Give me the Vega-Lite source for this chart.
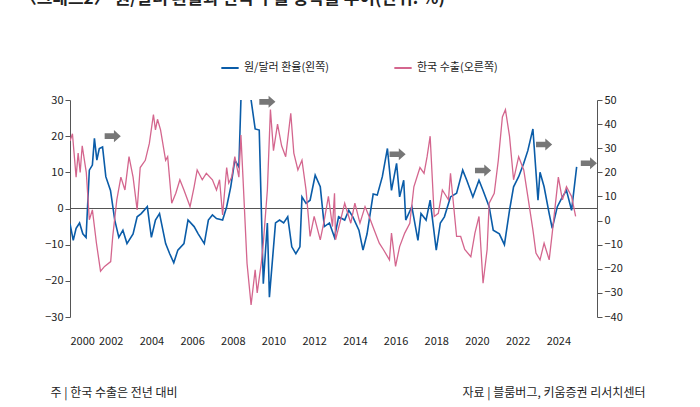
{
"$schema":"https://vega.github.io/schema/vega-lite/v6.json",
"autosize":"none","width":527,"height":217,
"padding":{"left":70,"top":100,"right":103,"bottom":90},
"background":"white",
"config":{"font":"Noto Sans CJK KR","view":{"stroke":null}},
"title":{"text":"〈그래프2〉 원/달러 환율과 한국 수출 등락률 추이(단위: %)","anchor":"start","dx":-25,"offset":50,"baseline":"top","fontSize":17,"fontWeight":"bold","color":"#222"},
"datasets":{
"won":[
{"t":2000.0,"v":-4.2},{"t":2000.16,"v":-8.8},{"t":2000.3,"v":-5.5},{"t":2000.47,"v":-4},{"t":2000.63,"v":-7},{"t":2000.79,"v":-8},{"t":2000.95,"v":10.6},{"t":2001.1,"v":12},{"t":2001.2,"v":19.4},{"t":2001.32,"v":13.4},{"t":2001.44,"v":16.6},{"t":2001.6,"v":17},{"t":2001.76,"v":8.8},{"t":2001.99,"v":5},{"t":2002.2,"v":-3.2},{"t":2002.4,"v":-8},{"t":2002.6,"v":-6},{"t":2002.8,"v":-9.7},{"t":2003.1,"v":-7},{"t":2003.3,"v":-2.3},{"t":2003.5,"v":-1.4},{"t":2003.8,"v":0.5},{"t":2004.0,"v":-8},{"t":2004.2,"v":-3.2},{"t":2004.4,"v":-1.4},{"t":2004.7,"v":-9.7},{"t":2004.9,"v":-12.5},{"t":2005.1,"v":-15},{"t":2005.3,"v":-11.5},{"t":2005.6,"v":-9.7},{"t":2005.8,"v":-3.2},{"t":2006.1,"v":-5},{"t":2006.3,"v":-7},{"t":2006.6,"v":-9.7},{"t":2006.8,"v":-3.2},{"t":2007.0,"v":-1.8},{"t":2007.2,"v":-2.8},{"t":2007.5,"v":-3.2},{"t":2007.7,"v":0.5},{"t":2007.9,"v":6},{"t":2008.1,"v":13.4},{"t":2008.3,"v":11.5},{"t":2008.4,"v":30},{"t":2008.6,"v":45},{"t":2008.8,"v":40},{"t":2008.9,"v":30},{"t":2009.1,"v":22},{"t":2009.3,"v":21.7},{"t":2009.4,"v":0.5},{"t":2009.5,"v":-20.8},{"t":2009.7,"v":-4},{"t":2009.8,"v":-24.5},{"t":2010.1,"v":-4},{"t":2010.3,"v":-3.2},{"t":2010.5,"v":-4},{"t":2010.7,"v":-2.3},{"t":2010.9,"v":-10.6},{"t":2011.1,"v":-12.5},{"t":2011.3,"v":-10.6},{"t":2011.4,"v":3.2},{"t":2011.6,"v":1.4},{"t":2011.8,"v":2.3},{"t":2012.05,"v":9.2},{"t":2012.3,"v":6},{"t":2012.5,"v":-5},{"t":2012.75,"v":-4},{"t":2013.0,"v":-8},{"t":2013.2,"v":-2.3},{"t":2013.5,"v":-3.2},{"t":2013.7,"v":-0.5},{"t":2013.9,"v":-2.3},{"t":2014.2,"v":-6},{"t":2014.4,"v":-11.5},{"t":2014.6,"v":-7},{"t":2014.9,"v":4},{"t":2015.1,"v":3.7},{"t":2015.35,"v":8.8},{"t":2015.6,"v":16.6},{"t":2015.8,"v":5},{"t":2016.05,"v":12.5},{"t":2016.2,"v":3.2},{"t":2016.4,"v":7.8},{"t":2016.5,"v":-3.2},{"t":2016.8,"v":0.5},{"t":2017.1,"v":-8.8},{"t":2017.25,"v":-1.4},{"t":2017.5,"v":-3.2},{"t":2017.7,"v":2.3},{"t":2018.0,"v":-11.5},{"t":2018.2,"v":-4},{"t":2018.4,"v":-2.3},{"t":2018.7,"v":3.2},{"t":2019.0,"v":4.2},{"t":2019.3,"v":10.6},{"t":2019.5,"v":7.8},{"t":2019.8,"v":3.2},{"t":2020.1,"v":7.8},{"t":2020.3,"v":5},{"t":2020.6,"v":0.5},{"t":2020.8,"v":-6},{"t":2021.1,"v":-7},{"t":2021.35,"v":-10},{"t":2021.6,"v":-0.5},{"t":2021.8,"v":6},{"t":2022.05,"v":8.8},{"t":2022.3,"v":12.5},{"t":2022.5,"v":16},{"t":2022.75,"v":22},{"t":2023.0,"v":2.3},{"t":2023.1,"v":10},{"t":2023.3,"v":6},{"t":2023.55,"v":-1.4},{"t":2023.7,"v":-5.5},{"t":2023.95,"v":0.5},{"t":2024.2,"v":3.2},{"t":2024.4,"v":5},{"t":2024.65,"v":-0.5},{"t":2024.9,"v":11.5}
],
"exp":[
{"t":2000.0,"v":33},{"t":2000.12,"v":36},{"t":2000.3,"v":18},{"t":2000.4,"v":28},{"t":2000.5,"v":20},{"t":2000.6,"v":31},{"t":2000.8,"v":20},{"t":2000.95,"v":0.3},{"t":2001.1,"v":4.4},{"t":2001.3,"v":-9.4},{"t":2001.5,"v":-21},{"t":2001.7,"v":-19},{"t":2002.0,"v":-17},{"t":2002.1,"v":-6.6},{"t":2002.3,"v":8.6},{"t":2002.5,"v":18},{"t":2002.7,"v":12.7},{"t":2002.9,"v":26.5},{"t":2003.1,"v":18},{"t":2003.3,"v":4.4},{"t":2003.45,"v":22},{"t":2003.7,"v":25},{"t":2003.9,"v":32},{"t":2004.1,"v":44},{"t":2004.2,"v":37.6},{"t":2004.3,"v":42},{"t":2004.45,"v":37.6},{"t":2004.7,"v":25},{"t":2004.8,"v":26.5},{"t":2005.0,"v":7.2},{"t":2005.2,"v":11.3},{"t":2005.4,"v":16.9},{"t":2005.6,"v":12.7},{"t":2005.9,"v":5.8},{"t":2006.1,"v":14},{"t":2006.25,"v":21},{"t":2006.5,"v":16.9},{"t":2006.7,"v":19.6},{"t":2007.0,"v":16.9},{"t":2007.2,"v":12.7},{"t":2007.35,"v":16.9},{"t":2007.5,"v":2.3},{"t":2007.7,"v":22},{"t":2007.8,"v":15.5},{"t":2007.95,"v":18},{"t":2008.1,"v":26.5},{"t":2008.3,"v":18},{"t":2008.4,"v":35.5},{"t":2008.5,"v":18},{"t":2008.7,"v":-17.7},{"t":2008.9,"v":-35},{"t":2009.1,"v":-20.4},{"t":2009.2,"v":-30},{"t":2009.4,"v":-17.7},{"t":2009.5,"v":-9.4},{"t":2009.7,"v":12.7},{"t":2009.85,"v":46},{"t":2010.0,"v":29},{"t":2010.2,"v":40},{"t":2010.4,"v":31},{"t":2010.6,"v":26.5},{"t":2010.85,"v":44.5},{"t":2011.0,"v":28},{"t":2011.2,"v":21},{"t":2011.4,"v":25},{"t":2011.6,"v":12.7},{"t":2011.8,"v":-6.6},{"t":2012.0,"v":1.7},{"t":2012.3,"v":-8},{"t":2012.5,"v":0.3},{"t":2012.7,"v":10},{"t":2012.9,"v":-2.5},{"t":2013.0,"v":11.3},{"t":2013.05,"v":-8},{"t":2013.3,"v":0.3},{"t":2013.5,"v":7.2},{"t":2013.8,"v":-1.1},{"t":2014.0,"v":7.2},{"t":2014.25,"v":-1.1},{"t":2014.5,"v":5.8},{"t":2014.7,"v":1.7},{"t":2014.95,"v":-3.9},{"t":2015.2,"v":-9.4},{"t":2015.4,"v":-12},{"t":2015.7,"v":-16.3},{"t":2015.8,"v":-5.2},{"t":2016.0,"v":-19},{"t":2016.2,"v":-10.8},{"t":2016.45,"v":-5.2},{"t":2016.7,"v":-1.1},{"t":2016.9,"v":14},{"t":2017.2,"v":22},{"t":2017.4,"v":19.6},{"t":2017.55,"v":26.5},{"t":2017.7,"v":35},{"t":2017.9,"v":1.7},{"t":2018.1,"v":3},{"t":2018.3,"v":12.7},{"t":2018.6,"v":8.6},{"t":2018.7,"v":19.6},{"t":2019.0,"v":-6.6},{"t":2019.2,"v":-6.6},{"t":2019.4,"v":-12},{"t":2019.7,"v":-15},{"t":2019.9,"v":-5.2},{"t":2020.1,"v":1.7},{"t":2020.3,"v":-26},{"t":2020.5,"v":-12},{"t":2020.6,"v":7.2},{"t":2020.85,"v":11.3},{"t":2021.05,"v":25},{"t":2021.25,"v":43},{"t":2021.4,"v":46},{"t":2021.6,"v":35},{"t":2021.8,"v":16.9},{"t":2022.05,"v":26.5},{"t":2022.3,"v":21},{"t":2022.5,"v":10},{"t":2022.75,"v":-3.9},{"t":2022.9,"v":-13.5},{"t":2023.1,"v":-16.3},{"t":2023.3,"v":-9.4},{"t":2023.55,"v":-16.3},{"t":2023.7,"v":-5.2},{"t":2024.0,"v":18},{"t":2024.2,"v":8.6},{"t":2024.4,"v":14},{"t":2024.65,"v":10},{"t":2024.85,"v":1.7}
],
"arrows":[{"t":2002.1,"v":20},{"t":2009.7,"v":29.5},{"t":2016.1,"v":15},{"t":2020.3,"v":10.5},{"t":2023.3,"v":17.7},{"t":2025.5,"v":12.5}],
"zero":[{"v":0}]
},
"layer":[
{"data":{"name":"zero"},"mark":{"type":"rule","color":"#555","strokeWidth":1},
 "encoding":{"y":{"field":"v","type":"quantitative","scale":{"domain":[-30,30]},"axis":null}}},
{"data":{"name":"won"},"mark":{"type":"line","strokeWidth":1.6,"clip":true},
 "encoding":{
  "x":{"field":"t","type":"quantitative","scale":{"domain":[2000,2025.9],"nice":false},
   "axis":{"values":[2000,2002,2004,2006,2008,2010,2012,2014,2016,2018,2020,2022,2024],"format":"d","domain":false,"ticks":false,"grid":false,"labelPadding":18,"labelFontSize":11,"labelColor":"#222",
   "title":"주 | 한국 수출은 전년 대비","titleAnchor":"start","titleX":-20,"titleY":70,"titleFontSize":12,"titleFontWeight":"normal","titleColor":"#222"}},
  "y":{"field":"v","type":"quantitative","scale":{"domain":[-30,30],"nice":false},
   "axis":{"values":[-30,-20,-10,0,10,20,30],"format":"d","grid":false,"title":null,"domainColor":"#555","tickColor":"#555","labelFontSize":11,"labelColor":"#222","labelExpr":"datum.value<0?'−'+abs(datum.value):datum.label"}},
  "color":{"datum":"원/달러 환율(왼쪽)","type":"nominal","scale":{"domain":["원/달러 환율(왼쪽)","한국 수출(오른쪽)"],"range":["#0a5ca8","#d4668e"]},
   "legend":{"orient":"none","legendX":150,"legendY":-42,"direction":"horizontal","title":null,"symbolType":"stroke","symbolStrokeWidth":2,"symbolSize":300,"labelFontSize":11,"columnPadding":60,"labelColor":"#222"}}}},
{"data":{"name":"exp"},"mark":{"type":"line","strokeWidth":1.3,"clip":true},
 "encoding":{
  "x":{"field":"t","type":"quantitative","scale":{"domain":[2000,2025.9],"nice":false},
   "axis":{"orient":"bottom","labels":false,"domain":false,"ticks":false,"grid":false,
   "title":"자료 | 블룸버그, 키움증권 리서치센터","titleAnchor":"end","titleX":575,"titleY":70,"titleFontSize":12,"titleFontWeight":"normal","titleColor":"#222"}},
  "y":{"field":"v","type":"quantitative","scale":{"domain":[-40,50],"nice":false},
   "axis":{"orient":"right","values":[-40,-30,-20,-10,0,10,20,30,40,50],"format":"d","grid":false,"title":null,"domainColor":"#555","tickColor":"#555","labelFontSize":11,"labelColor":"#222","labelExpr":"datum.value<0?'−'+abs(datum.value):datum.label"}},
  "color":{"datum":"한국 수출(오른쪽)","type":"nominal"}}},
{"data":{"name":"arrows"},"mark":{"type":"point","filled":true,"color":"#777","opacity":1,"size":260,"shape":"M -1 -0.35 L 0.15 -0.35 L 0.15 -0.75 L 1 0 L 0.15 0.75 L 0.15 0.35 L -1 0.35 Z","clip":false},
 "encoding":{"x":{"field":"t","type":"quantitative","scale":{"domain":[2000,2025.9],"nice":false},"axis":null},"y":{"field":"v","type":"quantitative","scale":{"domain":[-30,30]},"axis":null}}}
],
"resolve":{"scale":{"y":"independent"},"axis":{"x":"independent","y":"independent"}}
}
